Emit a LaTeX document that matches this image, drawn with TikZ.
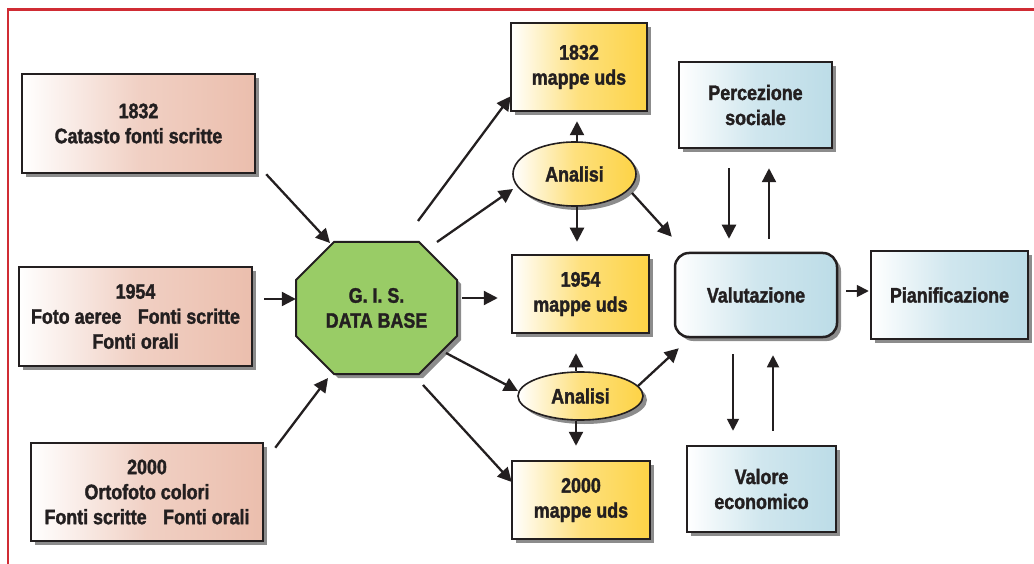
\documentclass[tikz,border=0pt]{standalone}
\usepackage{fontspec}
\setmainfont{Liberation Sans}[FakeStretch=0.85, BoldFeatures={FakeBold=1.6}]
\usetikzlibrary{shadows,arrows.meta,calc,shapes.geometric}
\definecolor{framered}{RGB}{208,44,52}
\definecolor{salmon}{RGB}{235,190,173}
\definecolor{gold}{RGB}{253,211,70}
\definecolor{sky}{RGB}{188,220,231}
\definecolor{leaf}{RGB}{153,204,102}
\definecolor{ink}{RGB}{35,31,32}
\tikzset{
  shd/.style={drop shadow={shadow xshift=4pt,shadow yshift=-4pt,fill=black,opacity=0.45}},
  txt/.style={align=center, text=ink, font=\bfseries\fontsize{21}{25}\selectfont, inner sep=0pt},
  box/.style={txt, rectangle, draw=ink, line width=2.5pt, shd},
  srcbox/.style={box, left color=white, right color=salmon, middle color=salmon!72!white},
  mapbox/.style={box, left color=white, right color=gold, middle color=gold!70!white},
  evbox/.style={box, left color=white, right color=sky, middle color=sky!70!white},
  anbox/.style={txt, ellipse, draw=ink, line width=1.6pt, shd, left color=white, right color=gold, middle color=gold!70!white},
  arr/.style={draw=ink, line width=2.3pt, -{Triangle[length=14pt,width=14pt]}},
  arrs/.style={draw=ink, line width=1.8pt, -{Triangle[length=12pt,width=12pt]}}
}
\begin{document}
\begin{tikzpicture}[x=1pt,y=-1pt]
\useasboundingbox (0,0) rectangle (1034,564);
% frame
\draw[framered, line width=2.5pt] (8,564) -- (8,9.5) -- (1034,9.5);
% sources
\node[srcbox, minimum width=233, minimum height=99] (l1) at (138.5,123.5) {1832\\Catasto fonti scritte};
\node[srcbox, minimum width=233, minimum height=99] (l2) at (135.5,316.5) {1954\\Foto aeree\hspace{0.55em} Fonti scritte\\Fonti orali};
\node[srcbox, minimum width=232, minimum height=98] (l3) at (147,492) {2000\\Ortofoto colori\\Fonti scritte\hspace{0.55em} Fonti orali};
% GIS octagon
\coordinate (gc) at (376.5,308);
\path[draw=ink, line width=2pt, fill=leaf, shd] ($(gc)+(-42.5,-66)$) -- ($(gc)+(42.5,-66)$) -- ($(gc)+(80.5,-28)$) -- ($(gc)+(80.5,28)$) -- ($(gc)+(42.5,66)$) -- ($(gc)+(-42.5,66)$) -- ($(gc)+(-80.5,28)$) -- ($(gc)+(-80.5,-28)$) -- cycle;
\node[txt, minimum width=161, minimum height=132] (gis) at (gc) {G. I. S.\\DATA BASE};
% maps
\node[mapbox, minimum width=136, minimum height=88] (y1) at (579,67) {1832\\mappe uds};
\node[mapbox, minimum width=137, minimum height=78] (y2) at (580.5,294) {1954\\mappe uds};
\node[mapbox, minimum width=138, minimum height=78] (y3) at (581,500) {2000\\mappe uds};
% analyses
\node[anbox, minimum width=123, minimum height=64] (e1) at (574.5,174) {Analisi};
\node[anbox, minimum width=125, minimum height=48] (e2) at (580.5,396) {Analisi};
% evaluation
\node[evbox, minimum width=153, minimum height=86] (p1) at (755.5,105) {Percezione\\sociale};
\node[evbox, minimum width=162, minimum height=84, rounded corners=14pt] (val) at (756,295) {Valutazione};
\node[evbox, minimum width=157, minimum height=88] (pian) at (949.5,295) {Pianificazione};
\node[evbox, minimum width=149, minimum height=86] (vec) at (761.5,489) {Valore\\economico};
% connectors
\draw[arr] ($(l1.south east)+(10,0)$) -- ($(gis.center)+(-46.5,-65)$);
\draw[arr] ($(l2.east)+(11,-17.5)$) -- ($(gis.west)+(0,-9)$);
\draw[arr] ($(l3.north east)+(11,6)$) -- ($(gis.center)+(-48.5,70)$);
\draw[arr] ($(gis.center)+(41.5,-87)$) -- ($(y1.south west)+(1,-16)$);
\draw[arr] ($(gis.center)+(60.5,-66)$) -- ($(e1.center)+(-61.5,15)$);
\draw[arr] ($(gis.east)+(5,-10)$) -- ($(y2.west)+(-13,4)$);
\draw[arr] ($(gis.center)+(69.5,45)$) -- ($(e2.center)+(-62.5,-5)$);
\draw[arr] ($(gis.center)+(46.5,77)$) -- ($(y3.west)+(1,-18)$);
\draw[arr] ($(e1.north)+(2.5,0)$) -- ($(y1.south)+(-2,9)$);
\draw[arr] ($(e1.south)+(2.5,0)$) -- ($(y2.north)+(-3.5,-12)$);
\draw[arr] ($(e2.north)+(-4.5,0)$) -- ($(y2.south)+(-4.5,19)$);
\draw[arr] ($(e2.south)+(-4.5,0)$) -- ($(y3.north)+(-5,-14)$);
\draw[arr] ($(e1.center)+(57.5,19)$) -- ($(val.north west)+(-2,-15)$);
\draw[arr] ($(e2.center)+(57.5,-10)$) -- ($(val.south west)+(5,10)$);
\draw[arr] ($(p1.south)+(-26.5,19)$) -- ($(val.north)+(-27,-13)$);
\draw[arr] ($(val.north)+(13,-13)$) -- ($(p1.south)+(13.5,19)$);
\draw[arrs] ($(val.south)+(-23,16)$) -- ($(vec.north)+(-28.5,-14)$);
\draw[arrs] ($(vec.north)+(11.5,-14)$) -- ($(val.south)+(17,17)$);
\draw[arrs] ($(val.east)+(8,-4)$) -- ($(pian.west)+(-1,-4)$);
\end{tikzpicture}
\end{document}
